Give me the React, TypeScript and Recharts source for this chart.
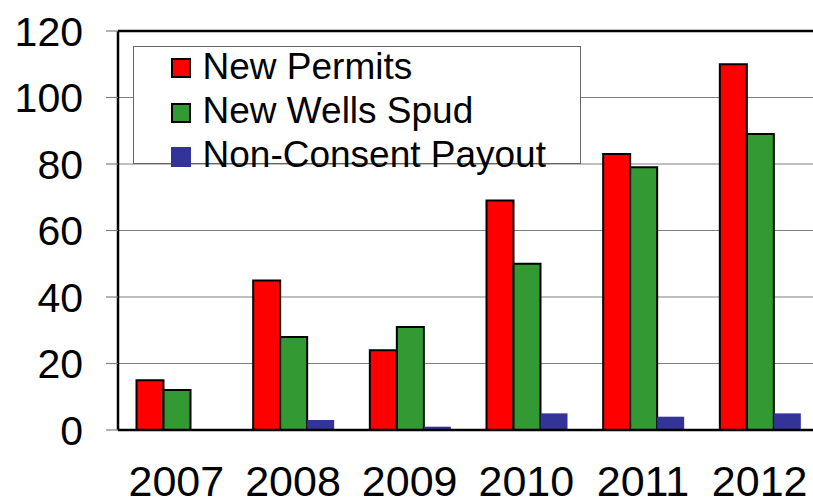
import React from 'react';
import { BarChart, Bar, XAxis, YAxis, CartesianGrid, Legend, ReferenceLine } from 'recharts';

const years = ['2007', '2008', '2009', '2010', '2011', '2012'];
const newPermits = [15, 45, 24, 69, 83, 110];
const newWellsSpud = [12, 28, 31, 50, 79, 89];
const nonConsentPayout = [0, 3, 1, 5, 4, 5];
const seriesNames = ['New Permits', 'New Wells Spud', 'Non-Consent Payout'];
const yTicks = [0, 20, 40, 60, 80, 100, 120];
const frameTicks = [0, 1, 2, 3, 4, 5, 6];

const seriesColors = ['#FF0000', '#339933', '#333399'];
const seriesStrokes = ['#000000', '#000000', 'none'];

const data = years.map((year, i) => ({
  year,
  permits: newPermits[i],
  spud: newWellsSpud[i],
  payout: nonConsentPayout[i],
}));

const FONT = '"Liberation Sans", Arial, Helvetica, sans-serif';

const LegendBox = (props: any) => {
  const payload = props.payload || [];
  return (
    <div
      style={{
        position: 'relative',
        width: '100%',
        height: '100%',
        boxSizing: 'border-box',
        border: '1.5px solid #666666',
        background: '#ffffff',
        fontFamily: FONT,
      }}
    >
      {payload.map((entry: any, i: number) => (
        <div
          key={i}
          style={{
            position: 'absolute',
            left: 37,
            top: -0.7 + i * 44.2,
            height: 44,
            display: 'flex',
            alignItems: 'center',
            whiteSpace: 'nowrap',
          }}
        >
          <span
            style={{
              display: 'inline-block',
              width: 20,
              height: 20,
              boxSizing: 'border-box',
              background: entry.color,
              border: seriesStrokes[i] === 'none' ? 'none' : '2px solid #000',
              marginRight: 11.5,
            }}
          />
          <span style={{ fontSize: 37, lineHeight: '44px', color: '#000', position: 'relative', top: -1.5 }}>
            {entry.value}
          </span>
        </div>
      ))}
    </div>
  );
};

export default function App() {
  return (
    <div style={{ position: 'absolute', left: 8, top: 8, width: 805, height: 489, overflow: 'hidden', background: '#fff' }}>
      <BarChart
        width={830}
        height={489}
        data={data}
        margin={{ top: 23, right: 20, bottom: 5, left: 0 }}
        barCategoryGap={18.5}
        barGap={0}
      >
        <CartesianGrid vertical={false} stroke="#808080" strokeWidth={1.2} xAxisId="b" />
        <XAxis
          xAxisId="b"
          dataKey="year"
          height={60}
          axisLine={false}
          tickLine={false}
          tickSize={0}
          tickMargin={33}
          interval={0}
          tick={{ fontSize: 43, fill: '#000', fontFamily: FONT }}
        />
        <XAxis
          xAxisId="a"
          type="number"
          domain={[0, 6]}
          ticks={frameTicks}
          allowDataOverflow
          tick={false}
          tickSize={13}
          height={2}
          axisLine={{ stroke: '#000', strokeWidth: 2.5 }}
          tickLine={{ stroke: '#808080', strokeWidth: 1.2 }}
        />
        <YAxis
          width={110}
          domain={[0, 120]}
          ticks={yTicks}
          interval={0}
          tickSize={12}
          tickMargin={23}
          axisLine={{ stroke: '#000', strokeWidth: 2.5 }}
          tickLine={{ stroke: '#808080', strokeWidth: 1.2 }}
          tick={{ fontSize: 41, fill: '#000', fontFamily: FONT }}
        />
        <ReferenceLine y={120} xAxisId="b" stroke="#000" strokeWidth={2.5} />
        <Legend
          layout="vertical"
          align="center"
          verticalAlign="middle"
          content={<LegendBox />}
          wrapperStyle={{ position: 'absolute', left: 125, top: 38, width: 448, height: 118 }}
        />
        <Bar
          xAxisId="b"
          dataKey="permits"
          name={seriesNames[0]}
          fill={seriesColors[0]}
          stroke={seriesStrokes[0]}
          strokeWidth={2}
          isAnimationActive={false}
        />
        <Bar
          xAxisId="b"
          dataKey="spud"
          name={seriesNames[1]}
          fill={seriesColors[1]}
          stroke={seriesStrokes[1]}
          strokeWidth={2}
          isAnimationActive={false}
        />
        <Bar
          xAxisId="b"
          dataKey="payout"
          name={seriesNames[2]}
          fill={seriesColors[2]}
          isAnimationActive={false}
        />
      </BarChart>
    </div>
  );
}
